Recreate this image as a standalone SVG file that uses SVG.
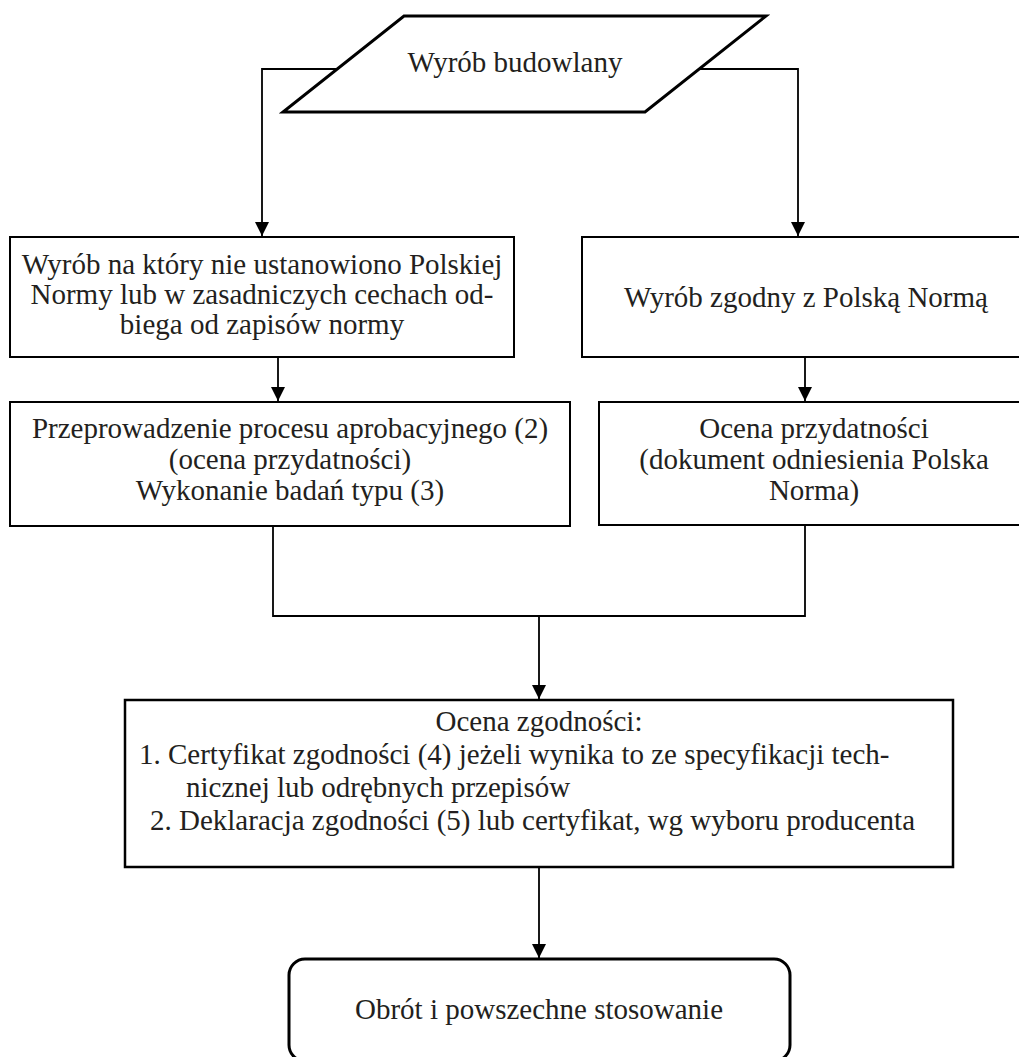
<svg xmlns="http://www.w3.org/2000/svg" width="1019" height="1057" viewBox="0 0 1019 1057">
<style>
text{font-family:"Liberation Serif","Times New Roman",serif;font-size:29px;fill:#231f20}
.box{fill:#fff;stroke:#000;stroke-width:2}
.thick{fill:#fff;stroke:#000;stroke-width:3}
.con{fill:none;stroke:#000;stroke-width:1.8}
.c{text-anchor:middle}
</style>
<defs>
<marker id="ah" markerWidth="14" markerHeight="15" refX="14" refY="7" orient="auto" markerUnits="userSpaceOnUse">
<path d="M0,0 L14,7 L0,14 Z" fill="#000"/>
</marker>
</defs>
<rect width="1019" height="1057" fill="#fff"/>
<g id="connectors">
<polyline class="con" points="340,69 262,69 262,236" marker-end="url(#ah)"/>
<polyline class="con" points="695,69 798,69 798,236" marker-end="url(#ah)"/>
<line class="con" x1="278" y1="357" x2="278" y2="401" marker-end="url(#ah)"/>
<line class="con" x1="805" y1="357" x2="805" y2="401" marker-end="url(#ah)"/>
<polyline class="con" points="273,526 273,616 805,616 805,525"/>
<line class="con" x1="539" y1="616" x2="539" y2="699" marker-end="url(#ah)"/>
<line class="con" x1="539" y1="867" x2="539" y2="958" marker-end="url(#ah)"/>
</g>
<g id="n0">
<polygon class="thick" points="404,16 766,16 645,112 283,112"/>
<text class="c" x="515" y="72">Wyrób budowlany</text>
</g>
<g id="n1">
<rect class="box" x="10" y="237" width="504" height="120"/>
<text class="c" x="262" y="274">Wyrób na który nie ustanowiono Polskiej</text>
<text class="c" x="262" y="304">Normy lub w zasadniczych cechach od-</text>
<text class="c" x="262" y="334">biega od zapisów normy</text>
</g>
<g id="n2">
<rect class="box" x="582" y="237" width="448" height="120"/>
<text class="c" x="806" y="307">Wyrób zgodny z Polską Normą</text>
</g>
<g id="n3">
<rect class="box" x="10" y="402" width="560" height="124"/>
<text class="c" x="290" y="438">Przeprowadzenie procesu aprobacyjnego (2)</text>
<text class="c" x="290" y="469">(ocena przydatności)</text>
<text class="c" x="290" y="500">Wykonanie badań typu (3)</text>
</g>
<g id="n4">
<rect class="box" x="599" y="402" width="431" height="123"/>
<text class="c" x="814" y="438">Ocena przydatności</text>
<text class="c" x="814" y="469">(dokument odniesienia Polska</text>
<text class="c" x="814" y="500">Norma)</text>
</g>
<g id="n5">
<rect class="box" x="125" y="700" width="828" height="167" style="stroke-width:2.5"/>
<text class="c" x="539" y="731">Ocena zgodności:</text>
<text x="139" y="764">1. Certyfikat zgodności (4) jeżeli wynika to ze specyfikacji tech-</text>
<text x="186" y="797">nicznej lub odrębnych przepisów</text>
<text x="150" y="830">2. Deklaracja zgodności (5) lub certyfikat, wg wyboru producenta</text>
</g>
<g id="n6">
<rect class="thick" x="289" y="959" width="501" height="102" rx="16" ry="16"/>
<text class="c" x="539" y="1019">Obrót i powszechne stosowanie</text>
</g>
</svg>
